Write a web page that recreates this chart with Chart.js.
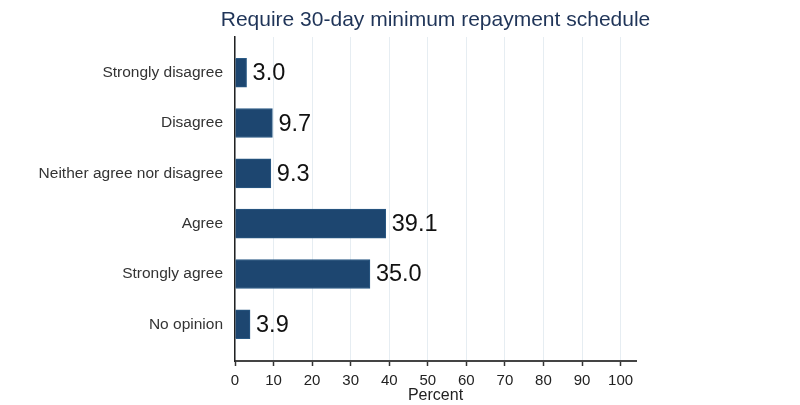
<!DOCTYPE html>
<html>
<head>
<meta charset="utf-8">
<script src="https://cdn.jsdelivr.net/npm/chart.js@4/dist/chart.umd.min.js"></script>
<style>
  html, body { margin: 0; padding: 0; background: #fff; }
  #wrap { width: 800px; height: 405px; }
</style>
</head>
<body>
<div id="wrap"><canvas id="c" width="800" height="405"></canvas></div>
<script>
// data
const categories = ['Strongly disagree', 'Disagree', 'Neither agree nor disagree', 'Agree', 'Strongly agree', 'No opinion'];
const percents = [3.0, 9.7, 9.3, 39.1, 35.0, 3.9];
const xTicks = [0, 10, 20, 30, 40, 50, 60, 70, 80, 90, 100];
const chartTitle = 'Require 30-day minimum repayment schedule';

const FONT = '"Liberation Sans", Arial, sans-serif';

// title centred over the plot area
const titlePlugin = {
    id: 'plotTitle',
    afterDraw(chart) {
        const ctx = chart.ctx, a = chart.chartArea;
        ctx.save();
        ctx.font = '21px ' + FONT;
        ctx.fillStyle = '#1f3458';
        ctx.textAlign = 'center';
        ctx.textBaseline = 'middle';
        ctx.fillText(chartTitle, (a.left + a.right) / 2, 20);
        ctx.restore();
    }
};

// value labels at bar ends
const valueLabels = {
    id: 'valueLabels',
    afterDatasetsDraw(chart) {
        const ctx = chart.ctx;
        const meta = chart.getDatasetMeta(0);
        ctx.save();
        ctx.font = '23.5px ' + FONT;
        ctx.fillStyle = '#111';
        ctx.textAlign = 'left';
        ctx.textBaseline = 'middle';
        meta.data.forEach((bar, i) => {
            ctx.fillText(percents[i].toFixed(1), bar.x + 6, bar.y + 1);
        });
        ctx.restore();
    }
};

new Chart(document.getElementById('c'), {
    type: 'bar',
    data: {
        datasets: [{
            data: percents.map((v, i) => ({ x: v, y: i })),
            backgroundColor: '#1d4670',
            borderColor: '#2a5a85',
            borderWidth: 1,
            barThickness: 29
        }]
    },
    options: {
        indexAxis: 'y',
        responsive: false,
        animation: false,
        layout: { padding: { top: 37, right: 164, left: 0, bottom: 0 } },
        plugins: {
            legend: { display: false },
            tooltip: { enabled: false }
        },
        scales: {
            x: {
                type: 'linear',
                min: 0,
                max: 104,
                offset: false,
                afterBuildTicks: s => { s.ticks = xTicks.map(v => ({ value: v })); },
                afterFit: s => { s.height = 44; },
                grid: {
                    color: '#e6edf2',
                    lineWidth: 1,
                    offset: false,
                    drawTicks: true,
                    tickLength: 5,
                    tickColor: '#333',
                    tickWidth: 1.5
                },
                border: { color: '#444', width: 2 },
                ticks: {
                    color: '#222',
                    font: { family: FONT, size: 15 },
                    padding: 6,
                    maxRotation: 0
                },
                title: {
                    display: true,
                    text: 'Percent',
                    color: '#222',
                    font: { family: FONT, size: 16 },
                    padding: { top: -12, bottom: 0 }
                }
            },
            y: {
                type: 'linear',
                reverse: true,
                offset: false,
                min: -0.71,
                max: 5.73,
                afterBuildTicks: s => { s.ticks = categories.map((c, i) => ({ value: i })); },
                afterFit: s => { s.width = 235; },
                grid: { display: false, drawTicks: false, offset: false },
                border: { color: '#222', width: 1.5 },
                ticks: {
                    color: '#333',
                    font: { family: FONT, size: 15.5 },
                    padding: 12,
                    callback: v => categories[v]
                }
            }
        }
    },
    plugins: [titlePlugin, valueLabels]
});
</script>
</body>
</html>
